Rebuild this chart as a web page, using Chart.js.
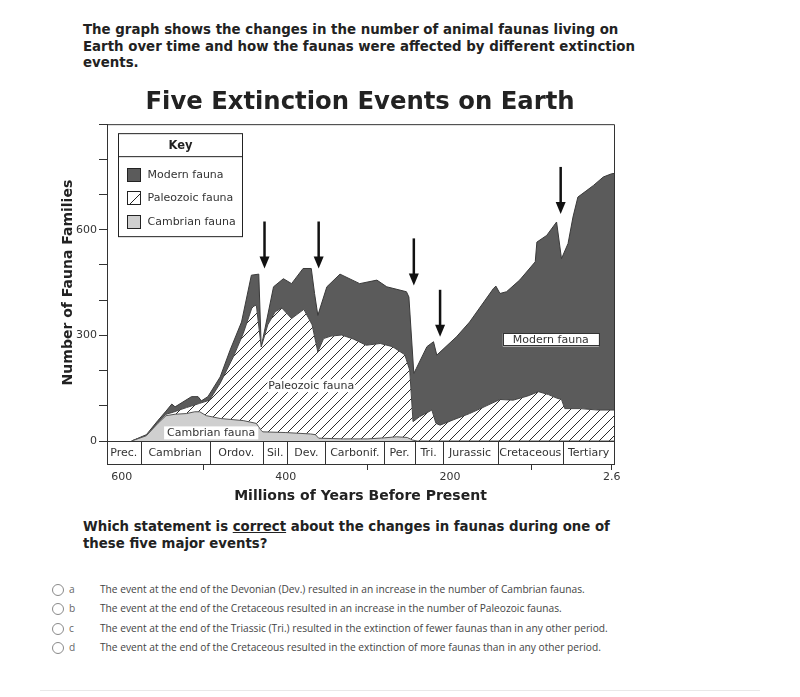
<!DOCTYPE html>
<html>
<head>
<meta charset="utf-8">
<script src="https://cdn.jsdelivr.net/npm/chart.js@4.4.0/dist/chart.umd.min.js"></script>
<style>
  body { margin: 0; width: 800px; height: 697px; background: #fff; position: relative; overflow: hidden;
         font-family: 'DejaVu Sans', sans-serif; color: #222; }
  .intro { position: absolute; left: 83px; top: 22px; font-weight: bold; font-size: 13.35px; line-height: 16.6px; }
  .question { position: absolute; left: 83px; top: 518px; font-weight: bold; font-size: 13.3px; line-height: 17px; }
  #wrap { position: absolute; left: 0; top: 80px; width: 720px; height: 429px; }
  .opt { position: absolute; left: 0; height: 18px; width: 800px; font-family: 'Open Sans', sans-serif; font-size: 10.2px; color: #444; }
  .opt .dot { position: absolute; left: 52px; top: 3px; width: 10px; height: 10px; border: 1px solid #8a8a8a; border-radius: 50%; }
  .opt .let { position: absolute; left: 69px; top: 1px; color: #666; }
  .opt .txt { position: absolute; left: 100px; top: 1px; white-space: nowrap; }
  .rule { position: absolute; left: 40px; width: 720px; top: 690px; border-top: 1px solid #e8e8e8; }
</style>
</head>
<body>
<div class="intro">The graph shows the changes in the number of animal faunas living on<br>Earth over time and how the faunas were affected by different extinction<br>events.</div>
<div id="wrap"><canvas id="chart" width="720" height="429"></canvas></div>
<div class="question">Which statement is <u>correct</u> about the changes in faunas during one of<br>these five major events?</div>
<div class="opt" style="top:581px"><span class="dot"></span><span class="let">a</span><span class="txt">The event at the end of the Devonian (Dev.) resulted in an increase in the number of Cambrian faunas.</span></div>
<div class="opt" style="top:600px"><span class="dot"></span><span class="let">b</span><span class="txt">The event at the end of the Cretaceous resulted in an increase in the number of Paleozoic faunas.</span></div>
<div class="opt" style="top:620px"><span class="dot"></span><span class="let">c</span><span class="txt">The event at the end of the Triassic (Tri.) resulted in the extinction of fewer faunas than in any other period.</span></div>
<div class="opt" style="top:639px"><span class="dot"></span><span class="let">d</span><span class="txt">The event at the end of the Cretaceous resulted in the extinction of more faunas than in any other period.</span></div>
<div class="rule"></div>
<script>
// millions of years before present / number of families (cumulative tops of each band)
const cambrianT   = [588, 570, 556, 546, 535, 521, 511, 505, 497, 480, 452, 436, 430, 428, 400, 370, 364, 360, 330, 300, 280, 265, 252, 246, 240, 0];
const cambrianTop = [0,   15,  50,  72,  76,  78,  83,  83,  72,  64,  58,  50,  30,  26,  24,  20,  18,  8,   6,   6,   9,   12,  10,  3,   0,   0];

const paleozoicT   = [588, 570, 556, 546, 537, 530, 521, 505, 493, 480, 464, 452, 441, 436, 430, 422, 413, 405, 393, 378, 368, 361, 354, 345, 332, 318, 302, 285, 270, 255, 249, 245, 237, 222, 217, 212, 196, 176, 160, 139, 123, 105, 92, 80, 70, 64, 60, 41, 20, 0];
const paleozoicTop = [0,   16,  52,  76,  82,  88,  95,  107, 116, 164, 239, 305, 381, 386, 267, 330, 367, 378, 348, 374, 330, 253, 291, 298, 301, 290, 272, 277, 268, 245, 201, 55,  69,  88,  50,  45,  60,  78,  95,  118, 116, 128, 140, 132, 122, 118, 92, 92, 88, 88];

const modernT   = [588, 570, 556, 546, 539, 535, 515, 507, 503, 495, 480, 468, 454, 442, 433, 430, 415, 403, 393, 379, 369, 365, 361, 350, 334, 310, 289, 277, 253, 250, 244, 241, 228, 220, 216, 192, 176, 147, 144, 139, 131, 115, 96,  94,  82,  70,  64,  56,  50,  44,  33,  25,  13,  3,   0];
const modernTop = [0,   18,  58,  85,  105, 97,  126, 126, 114, 126, 182, 258, 338, 471, 474, 267, 438, 461, 447, 490, 490, 419, 357, 438, 474, 447, 457, 438, 424, 409, 192, 206, 268, 282, 244, 296, 338, 433, 440, 419, 424, 457, 509, 565, 584, 622, 518, 561, 636, 693, 712, 726, 750, 759, 760];

const periodNames  = ['Prec.', 'Cambrian', 'Ordov.', 'Sil.', 'Dev.', 'Carbonif.', 'Per.', 'Tri.', 'Jurassic', 'Cretaceous', 'Tertiary'];
const periodBounds = [618, 577, 493, 428, 398, 352, 280, 243, 209, 142, 62, 0];

const eventT   = [426, 360, 244, 212, 65];
const eventTip = [490, 490, 442, 296, 645];

const xTickValues = [600, 500, 400, 300, 200, 100, 2.6];
const xTickLabels = ['600', '', '400', '', '200', '', '2.6'];
const yTickLabels = [0, 300, 600];

const INK = '#333';

function toPoints(ts, vs) {
    return ts.map((t, i) => ({x: t, y: vs[i]}));
}

function makeHatch() {
    const c = document.createElement('canvas');
    c.width = 10; c.height = 10;
    const g = c.getContext('2d');
    g.fillStyle = '#fff';
    g.fillRect(0, 0, 10, 10);
    g.strokeStyle = '#2a2a2a';
    g.lineWidth = 1;
    g.beginPath();
    g.moveTo(0, 10); g.lineTo(10, 0);
    g.moveTo(-1, 1); g.lineTo(1, -1);
    g.moveTo(9, 11); g.lineTo(11, 9);
    g.stroke();
    return g.createPattern(c, 'repeat');
}

const hatch = makeHatch();

// frame, period strip, arrows, labels and key
const decorations = {
    id: 'decorations',
    afterDraw(chart) {
        const ctx = chart.ctx;
        const a = chart.chartArea;
        const xs = chart.scales.x, ys = chart.scales.y;
        ctx.save();

        // top and right frame
        ctx.strokeStyle = INK;
        ctx.lineWidth = 1;
        ctx.beginPath();
        ctx.moveTo(a.left, a.top + 0.5);
        ctx.lineTo(a.right + 0.5, a.top + 0.5);
        ctx.lineTo(a.right + 0.5, a.bottom);
        ctx.stroke();

        // geologic periods strip
        const top = a.bottom, h = 23;
        ctx.fillStyle = '#fff';
        ctx.fillRect(a.left, top + 1, a.right - a.left, h);
        ctx.strokeRect(a.left + 0.5, top + 0.5, a.right - a.left, h);
        ctx.font = '11px "DejaVu Sans"';
        ctx.textAlign = 'center';
        ctx.textBaseline = 'middle';
        for (let i = 0; i < periodNames.length; i++) {
            const x0 = xs.getPixelForValue(periodBounds[i]);
            const x1 = xs.getPixelForValue(periodBounds[i + 1]);
            if (i > 0) {
                ctx.beginPath();
                ctx.moveTo(Math.round(x0) + 0.5, top);
                ctx.lineTo(Math.round(x0) + 0.5, top + h);
                ctx.stroke();
            }
            ctx.fillStyle = INK;
            ctx.fillText(periodNames[i], (x0 + x1) / 2, top + h / 2 + 1);
        }

        // extinction arrows
        ctx.fillStyle = '#111';
        ctx.strokeStyle = '#111';
        for (let i = 0; i < eventT.length; i++) {
            const x = xs.getPixelForValue(eventT[i]);
            const y = ys.getPixelForValue(eventTip[i]);
            ctx.lineWidth = 2.5;
            ctx.beginPath();
            ctx.moveTo(x, y - 47);
            ctx.lineTo(x, y - 10);
            ctx.stroke();
            ctx.beginPath();
            ctx.moveTo(x - 5, y - 12);
            ctx.lineTo(x + 5, y - 12);
            ctx.lineTo(x, y);
            ctx.closePath();
            ctx.fill();
        }

        // band labels
        const labels = [
            {text: 'Cambrian fauna', t: 491, v: 23, pad: 3, border: false},
            {text: 'Paleozoic fauna', t: 369, v: 157, pad: 1, border: false},
            {text: 'Modern fauna', t: 77, v: 287, pad: 10, border: true}
        ];
        ctx.font = '11px "DejaVu Sans"';
        labels.forEach(l => {
            const x = xs.getPixelForValue(l.t);
            const y = ys.getPixelForValue(l.v);
            const w = ctx.measureText(l.text).width + l.pad * 2;
            ctx.fillStyle = '#fff';
            ctx.fillRect(x - w / 2, y - 6.5, w, 13);
            if (l.border) {
                ctx.lineWidth = 1;
                ctx.strokeStyle = INK;
                ctx.strokeRect(Math.round(x - w / 2) + 0.5, Math.round(y - 6.5) + 0.5, Math.round(w), 12);
            }
            ctx.fillStyle = INK;
            ctx.fillText(l.text, x, y + 0.5);
        });

        // key
        const kx = a.left + 11.5, ky = a.top + 9.5, kw = 124, kh = 103;
        ctx.lineWidth = 1;
        ctx.strokeStyle = '#222';
        ctx.fillStyle = '#fff';
        ctx.fillRect(kx, ky, kw, kh);
        ctx.strokeRect(kx, ky, kw, kh);
        ctx.beginPath();
        ctx.moveTo(kx, ky + 23);
        ctx.lineTo(kx + kw, ky + 23);
        ctx.stroke();
        ctx.fillStyle = '#222';
        ctx.font = 'bold 11.5px "DejaVu Sans"';
        ctx.fillText('Key', kx + kw / 2, ky + 12);
        ctx.font = '11px "DejaVu Sans"';
        ctx.textAlign = 'left';
        const rows = chart.data.datasets.slice().reverse();
        rows.forEach((ds, i) => {
            const cy = ky + 40.5 + i * 23.5;
            const sx = kx + 9, sy = Math.round(cy - 6.5) + 0.5;
            ctx.fillStyle = ds.label === 'Paleozoic fauna' ? '#fff' : ds.backgroundColor;
            ctx.fillRect(sx, sy, 13, 13);
            ctx.strokeStyle = '#222';
            ctx.strokeRect(sx, sy, 13, 13);
            if (ds.label === 'Paleozoic fauna') {
                ctx.beginPath();
                ctx.moveTo(sx + 2, sy + 13);
                ctx.lineTo(sx + 13, sy + 2);
                ctx.stroke();
            }
            ctx.fillStyle = INK;
            ctx.fillText(ds.label, kx + 29, cy + 0.5);
        });

        ctx.restore();
    }
};

Chart.defaults.font.family = '"DejaVu Sans"';
Chart.defaults.color = INK;

new Chart(document.getElementById('chart'), {
    type: 'line',
    data: {
        datasets: [
            {
                label: 'Cambrian fauna',
                data: toPoints(cambrianT, cambrianTop),
                fill: 'origin',
                backgroundColor: '#cfcfcf',
                borderColor: '#555',
                borderWidth: 1,
                pointRadius: 0,
                tension: 0
            },
            {
                label: 'Paleozoic fauna',
                data: toPoints(paleozoicT, paleozoicTop),
                fill: '-1',
                backgroundColor: hatch,
                borderColor: '#444',
                borderWidth: 1,
                pointRadius: 0,
                tension: 0
            },
            {
                label: 'Modern fauna',
                data: toPoints(modernT, modernTop),
                fill: '-1',
                backgroundColor: '#5b5b5b',
                borderColor: '#3a3a3a',
                borderWidth: 1,
                pointRadius: 0,
                tension: 0
            }
        ]
    },
    options: {
        responsive: false,
        animation: false,
        events: [],
        layout: { padding: 0 },
        plugins: {
            legend: { display: false },
            tooltip: { enabled: false },
            title: {
                display: true,
                text: 'Five Extinction Events on Earth',
                color: '#222',
                font: { size: 24.3, weight: 'bold' },
                padding: { top: 8, bottom: 7 }
            }
        },
        scales: {
            x: {
                type: 'linear',
                reverse: true,
                min: 0,
                max: 618,
                afterBuildTicks: s => { s.ticks = xTickValues.map(v => ({value: v})); },
                afterFit: s => { s.height = 68; },
                ticks: {
                    autoSkip: false,
                    maxRotation: 0,
                    padding: 1,
                    color: INK,
                    font: { size: 11 },
                    callback: (v, i) => xTickLabels[i]
                },
                grid: {
                    drawOnChartArea: false,
                    tickLength: 29,
                    tickColor: c => (xTickLabels[c.index] && c.index < xTickLabels.length - 1) ? 'rgba(0,0,0,0)' : INK
                },
                border: { color: INK },
                title: {
                    display: true,
                    text: 'Millions of Years Before Present',
                    color: '#222',
                    font: { size: 14, weight: 'bold' },
                    padding: { top: 4, bottom: 4 }
                }
            },
            y: {
                min: 0,
                max: 900,
                afterFit: s => { s.width = 107; },
                ticks: {
                    stepSize: 100,
                    padding: 2,
                    color: INK,
                    font: { size: 11 },
                    callback: v => yTickLabels.includes(v) ? v : ''
                },
                grid: { drawOnChartArea: false, tickLength: 8, color: INK },
                border: { color: INK },
                title: {
                    display: true,
                    text: 'Number of Fauna Families',
                    color: '#222',
                    font: { size: 14, weight: 'bold' },
                    padding: { top: 60, bottom: 0 }
                }
            },
            y2: {
                position: 'right',
                display: true,
                afterFit: s => { s.width = 106; },
                ticks: { display: false },
                grid: { display: false },
                border: { display: false }
            }
        }
    },
    plugins: [decorations]
});
</script>
</body>
</html>
